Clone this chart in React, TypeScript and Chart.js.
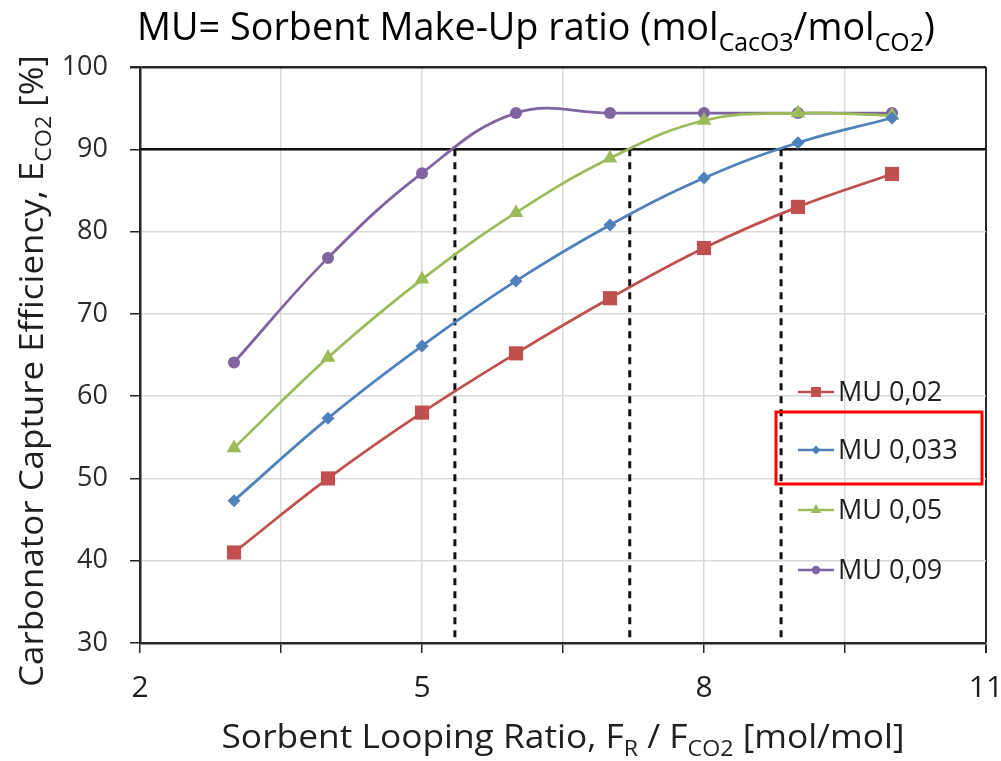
import React, { useEffect, useRef } from "react";
import { Chart, registerables } from "chart.js";

Chart.register(...registerables);

// ---- data ----
const xValues = [3, 4, 5, 6, 7, 8, 9, 10];
const mu002 = [41, 50, 58, 65.2, 71.9, 78, 83, 87];
const mu0033 = [47.3, 57.3, 66.1, 74, 80.8, 86.5, 90.8, 93.8];
const mu005 = [53.7, 64.7, 74.2, 82.3, 88.9, 93.5, 94.4, 94.1];
const mu009 = [64.1, 76.8, 87.1, 94.4, 94.4, 94.4, 94.4, 94.4];
const seriesLabels = ["MU 0,02", "MU 0,033", "MU 0,05", "MU 0,09"];
const seriesColors = ["#C0504D", "#4F81BD", "#9BBB59", "#8064A2"];
const seriesStyles = ["rect", "rectRot", "triangle", "circle"];
const seriesRadius = [10, 6.5, 8.5, 6];
const thresholdY = 90;
const crossingX = [5.35, 7.21, 8.82];
const xMin = 2;
const xMax = 11;
const xTickValues = [2, 3.5, 5, 6.5, 8, 9.5, 11];
const xLabelValues = [2, 5, 8, 11];
const yMin = 30;
const yMax = 100;
const yStep = 10;

const FONT = "'Open Sans', 'Liberation Sans', sans-serif";

type Part = { t: string; sub?: boolean };

function drawRich(
  ctx: CanvasRenderingContext2D,
  parts: Part[],
  size: number,
  subSize: number,
  subDrop: number,
  targetW: number
) {
  const widths: number[] = [];
  let total = 0;
  for (const p of parts) {
    ctx.font = `${p.sub ? subSize : size}px ${FONT}`;
    const w = ctx.measureText(p.t).width;
    widths.push(w);
    total += w;
  }
  const s = targetW / total;
  ctx.save();
  ctx.scale(s, 1);
  let x = -total / 2;
  ctx.textAlign = "left";
  ctx.textBaseline = "alphabetic";
  parts.forEach((p, i) => {
    ctx.font = `${p.sub ? subSize : size}px ${FONT}`;
    ctx.fillText(p.t, x, p.sub ? subDrop : 0);
    x += widths[i];
  });
  ctx.restore();
}

function drawMarker(ctx: CanvasRenderingContext2D, style: string, x: number, y: number, r: number, color: string) {
  ctx.save();
  ctx.fillStyle = color;
  ctx.beginPath();
  if (style === "rect") {
    const s = r * Math.SQRT1_2;
    ctx.rect(x - s, y - s, 2 * s, 2 * s);
  } else if (style === "rectRot") {
    ctx.moveTo(x - r, y);
    ctx.lineTo(x, y - r);
    ctx.lineTo(x + r, y);
    ctx.lineTo(x, y + r);
    ctx.closePath();
  } else if (style === "triangle") {
    ctx.moveTo(x, y - r);
    ctx.lineTo(x + r * 0.866, y + r * 0.5);
    ctx.lineTo(x - r * 0.866, y + r * 0.5);
    ctx.closePath();
  } else {
    ctx.arc(x, y, r, 0, Math.PI * 2);
  }
  ctx.fill();
  ctx.restore();
}

const textPlugin = {
  id: "textPlugin",
  afterDraw(chart: any) {
    const ctx: CanvasRenderingContext2D = chart.ctx;
    ctx.save();
    ctx.fillStyle = "#000000";
    // Title
    ctx.save();
    ctx.translate(536, 40);
    drawRich(
      ctx,
      [
        { t: "MU= Sorbent Make-Up ratio (mol" },
        { t: "CacO3", sub: true },
        { t: "/mol" },
        { t: "CO2", sub: true },
        { t: ")" },
      ],
      38,
      25,
      11,
      798
    );
    ctx.restore();

    // X axis title
    ctx.fillStyle = "#1f1f1f";
    ctx.save();
    ctx.translate(563, 748);
    drawRich(
      ctx,
      [
        { t: "Sorbent Looping Ratio, F" },
        { t: "R", sub: true },
        { t: " / F" },
        { t: "CO2", sub: true },
        { t: " [mol/mol]" },
      ],
      32,
      21,
      8,
      683
    );
    ctx.restore();

    // Y axis title
    ctx.save();
    ctx.translate(43, 371);
    ctx.rotate(-Math.PI / 2);
    drawRich(
      ctx,
      [
        { t: "Carbonator Capture Efficiency, E" },
        { t: "CO2", sub: true },
        { t: " [%]" },
      ],
      33,
      22,
      8,
      632
    );
    ctx.restore();

    // Legend
    const legendY = [392, 450, 510, 570];
    seriesLabels.forEach((lab, i) => {
      const y = legendY[i];
      ctx.save();
      ctx.strokeStyle = seriesColors[i];
      ctx.lineWidth = 2.5;
      ctx.beginPath();
      ctx.moveTo(798, y);
      ctx.lineTo(834, y);
      ctx.stroke();
      ctx.restore();
      drawMarker(ctx, seriesStyles[i], 816, y, seriesRadius[i] * 0.7, seriesColors[i]);
      ctx.fillStyle = "#1f1f1f";
      ctx.font = `27px ${FONT}`;
      ctx.textAlign = "left";
      ctx.textBaseline = "middle";
      ctx.fillText(lab, 838, y + 1);
    });

    // Red highlight box
    ctx.strokeStyle = "#FF0000";
    ctx.lineWidth = 3;
    ctx.strokeRect(776, 412, 206, 72);
    ctx.restore();
  },
};

function makeSeries(values: number[], i: number) {
  return {
    label: seriesLabels[i],
    data: xValues.map((x, k) => ({ x, y: values[k] })),
    borderColor: seriesColors[i],
    backgroundColor: seriesColors[i],
    borderWidth: 2.75,
    pointStyle: seriesStyles[i],
    pointRadius: seriesRadius[i],
    pointBorderWidth: 0,
    showLine: true,
    tension: 0.4,
    order: 1,
  };
}

export default function App() {
  const ref = useRef<HTMLCanvasElement | null>(null);
  useEffect(() => {
    if (!ref.current) return;
    const refLines: any[] = [
      {
        label: "threshold",
        data: [
          { x: xMin, y: thresholdY },
          { x: xMax, y: thresholdY },
        ],
        borderColor: "#111111",
        borderWidth: 2.5,
        pointRadius: 0,
        showLine: true,
        order: 5,
      },
      ...crossingX.map((cx) => ({
        label: "cross",
        data: [
          { x: cx, y: thresholdY },
          { x: cx, y: yMin },
        ],
        borderColor: "#111111",
        borderWidth: 3,
        borderDash: [7, 6],
        pointRadius: 0,
        showLine: true,
        order: 5,
      })),
    ];
    const chart = new Chart(ref.current, {
      type: "scatter",
      data: {
        datasets: [
          makeSeries(mu002, 0),
          makeSeries(mu0033, 1),
          makeSeries(mu005, 2),
          makeSeries(mu009, 3),
          ...refLines,
        ] as any,
      },
      options: {
        responsive: false,
        animation: false,
        layout: { padding: { left: 0, right: 15, top: 67, bottom: 0 } },
        plugins: {
          legend: { display: false },
          tooltip: { enabled: false },
          title: { display: false },
        },
        scales: {
          x: {
            type: "linear",
            min: xMin,
            max: xMax,
            afterBuildTicks: (scale: any) => {
              scale.ticks = xTickValues.map((v) => ({ value: v }));
            },
            afterFit: (scale: any) => {
              scale.height = 118;
              scale.paddingLeft = 0;
              scale.paddingRight = 0;
            },
            ticks: {
              autoSkip: false,
              maxRotation: 0,
              padding: 17,
              color: "#1f1f1f",
              font: { family: FONT, size: 30 },
              callback: (v: any) => (xLabelValues.includes(Number(v)) ? String(v) : ""),
            },
            grid: {
              color: (c: any) => (c.tick && c.tick.value === xMax ? "#262626" : "#d9d9d9"),
              lineWidth: (c: any) => (c.tick && c.tick.value === xMax ? 2 : 1.5),
              tickColor: "#262626",
              tickLength: 10,
            },
            border: { color: "#262626", width: 2.5 },
          },
          y: {
            type: "linear",
            min: yMin,
            max: yMax,
            afterFit: (scale: any) => {
              scale.width = 140;
              scale.paddingTop = 0;
              scale.paddingBottom = 0;
            },
            ticks: {
              stepSize: yStep,
              padding: 22,
              color: "#2b2b2b",
              font: { family: FONT, size: 27 },
            },
            grid: {
              color: (c: any) => (c.tick && c.tick.value === yMax ? "#262626" : "#d9d9d9"),
              lineWidth: (c: any) => (c.tick && c.tick.value === yMax ? 2.5 : 1.5),
              tickColor: "#262626",
              tickLength: 10,
            },
            border: { color: "#262626", width: 2.5 },
          },
        },
      },
      plugins: [textPlugin],
    });
    return () => chart.destroy();
  }, []);
  return (
    <div style={{ position: "fixed", left: 0, top: 0, width: 1001, height: 761, background: "#ffffff" }}>
      <canvas ref={ref} width={1001} height={761} style={{ width: 1001, height: 761 }} />
    </div>
  );
}
